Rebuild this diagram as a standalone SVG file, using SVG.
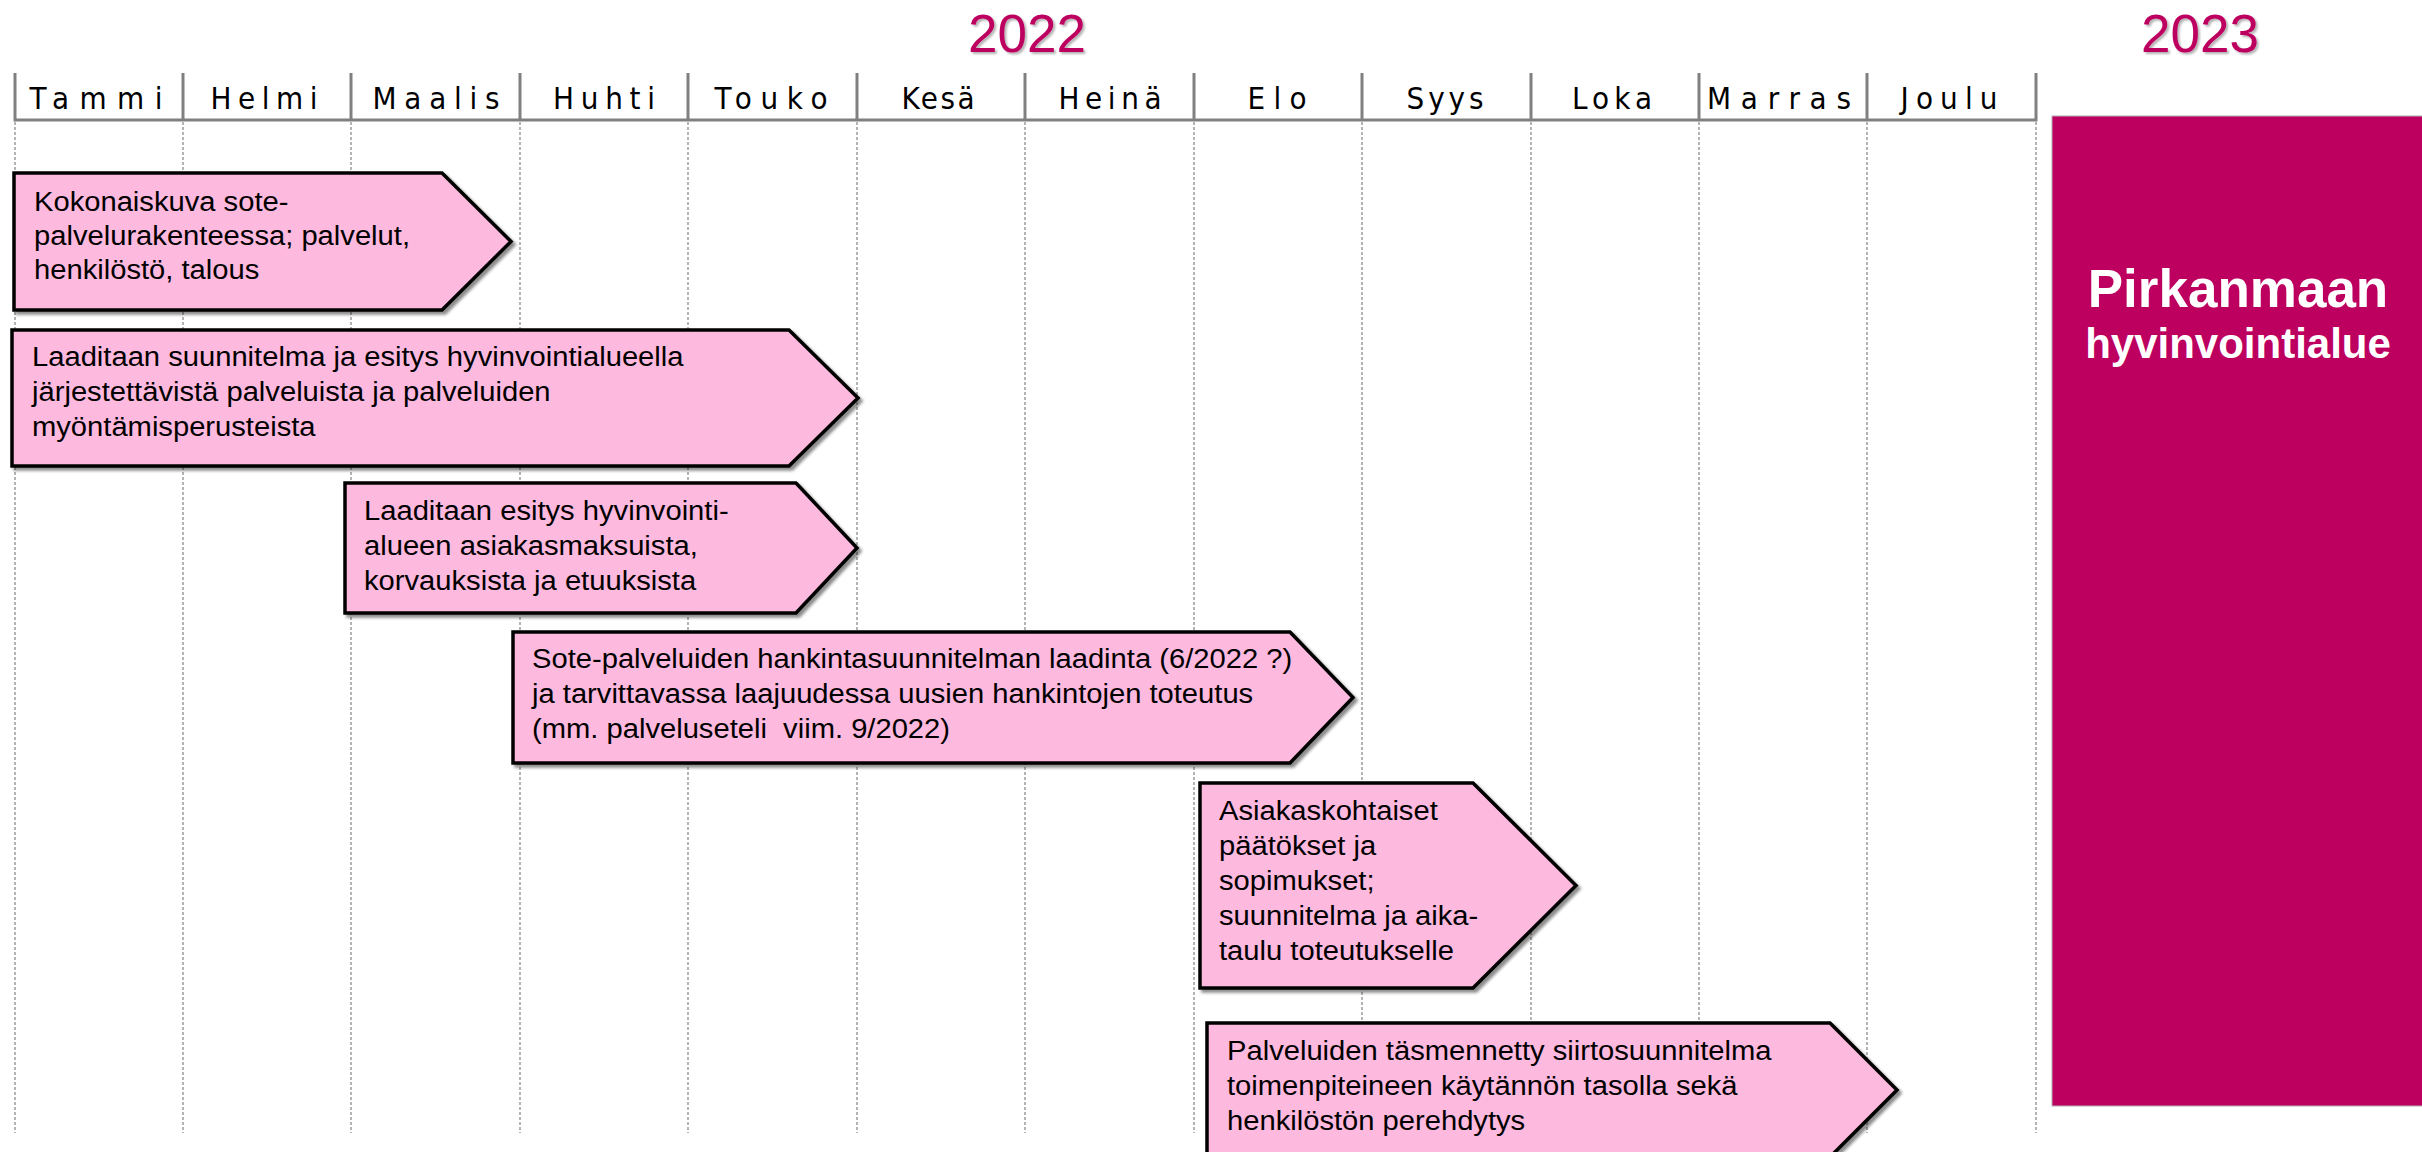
<svg xmlns="http://www.w3.org/2000/svg" width="2422" height="1152" viewBox="0 0 2422 1152">
<defs>
<style>
.yr{font-family:"Liberation Sans",Arial,sans-serif;font-size:53px;fill:#BD0060;text-anchor:middle}
.mo{font-family:"DejaVu Sans Condensed","DejaVu Sans",sans-serif;font-stretch:condensed;font-size:31px;fill:#000;text-anchor:middle}
.tick{stroke:#808080;stroke-width:3;fill:none}
.grid{stroke:#b4b4b4;stroke-width:2;stroke-dasharray:3 2;fill:none}
.box{fill:#FEB9DE;stroke:#000;stroke-width:3.5;stroke-linejoin:miter}
.bt{font-family:"Liberation Sans",Arial,sans-serif;font-size:27px;fill:#000}
.wt{font-family:"Liberation Sans",Arial,sans-serif;font-weight:bold;fill:#fff;text-anchor:middle}
</style>
<filter id="sh" x="-5%" y="-10%" width="115%" height="130%">
<feDropShadow dx="3" dy="3" stdDeviation="1.5" flood-color="#000" flood-opacity="0.45"/>
</filter>
<filter id="tsh" x="-10%" y="-20%" width="130%" height="150%">
<feDropShadow dx="2" dy="2" stdDeviation="1.2" flood-color="#000" flood-opacity="0.3"/>
</filter>
</defs>
<rect width="2422" height="1152" fill="#fff"/>

<g id="years">
<text class="yr" x="1027" y="52" filter="url(#tsh)">2022</text>
<text class="yr" x="2200" y="52" filter="url(#tsh)">2023</text>
</g>

<g id="grid">
<path class="grid" d="M15 122V1133M183 122V1133M351 122V1133M520 122V1133M688 122V1133M857 122V1133M1025 122V1133M1194 122V1133M1362 122V1133M1531 122V1133M1699 122V1133M1867 122V1133M2036 122V1133"/>
</g>

<g id="header">
<path class="tick" d="M15 73V121M183 73V121M351 73V121M520 73V121M688 73V121M857 73V121M1025 73V121M1194 73V121M1362 73V121M1531 73V121M1699 73V121M1867 73V121M2036 73V121M13.5 120H2037.5"/>
<text class="mo" x="96" y="109" textLength="133" lengthAdjust="spacing">Tammi</text>
<text class="mo" x="264" y="109" textLength="107" lengthAdjust="spacing">Helmi</text>
<text class="mo" x="436" y="109" textLength="127" lengthAdjust="spacing">Maalis</text>
<text class="mo" x="604" y="109" textLength="102" lengthAdjust="spacing">Huhti</text>
<text class="mo" x="771" y="109" textLength="113" lengthAdjust="spacing">Touko</text>
<text class="mo" x="938" y="109" textLength="73" lengthAdjust="spacing">Kesä</text>
<text class="mo" x="1110" y="109" textLength="103" lengthAdjust="spacing">Heinä</text>
<text class="mo" x="1277" y="109" textLength="59" lengthAdjust="spacing">Elo</text>
<text class="mo" x="1445" y="109" textLength="77" lengthAdjust="spacing">Syys</text>
<text class="mo" x="1612" y="109" textLength="80" lengthAdjust="spacing">Loka</text>
<text class="mo" x="1779" y="109" textLength="144" lengthAdjust="spacing">Marras</text>
<text class="mo" x="1949" y="109" textLength="97" lengthAdjust="spacing">Joulu</text>
</g>

<g id="region">
<rect x="2052" y="116" width="372" height="990" fill="#BD0060" stroke="#b0b0b0" stroke-width="1"/>
<text class="wt" x="2238" y="307" font-size="53">Pirkanmaan</text>
<text class="wt" x="2238" y="358" font-size="42">hyvinvointialue</text>
</g>

<g id="connectors"></g>

<g id="task1">
<path class="box" filter="url(#sh)" d="M14 173H442L511 241.5L442 310H14Z"/>
<g transform="translate(34,0) scale(1.08,1)">
<text class="bt" x="0" y="211">Kokonaiskuva sote-</text>
<text class="bt" x="0" y="245">palvelurakenteessa; palvelut,</text>
<text class="bt" x="0" y="279">henkilöstö, talous</text>
</g>
</g>

<g id="task2">
<path class="box" filter="url(#sh)" d="M12 330H789L858 398L789 466H12Z"/>
<g transform="translate(32,0) scale(1.08,1)">
<text class="bt" x="0" y="366">Laaditaan suunnitelma ja esitys hyvinvointialueella</text>
<text class="bt" x="0" y="401">järjestettävistä palveluista ja palveluiden</text>
<text class="bt" x="0" y="436">myöntämisperusteista</text>
</g>
</g>

<g id="task3">
<path class="box" filter="url(#sh)" d="M345 483H796L857 548L796 613H345Z"/>
<g transform="translate(364,0) scale(1.08,1)">
<text class="bt" x="0" y="520">Laaditaan esitys hyvinvointi-</text>
<text class="bt" x="0" y="555">alueen asiakasmaksuista,</text>
<text class="bt" x="0" y="590">korvauksista ja etuuksista</text>
</g>
</g>

<g id="task4">
<path class="box" filter="url(#sh)" d="M513 632H1290L1353 697.5L1290 763H513Z"/>
<g transform="translate(532,0) scale(1.08,1)">
<text class="bt" x="0" y="668">Sote-palveluiden hankintasuunnitelman laadinta (6/2022 ?)</text>
<text class="bt" x="0" y="703">ja tarvittavassa laajuudessa uusien hankintojen toteutus</text>
<text class="bt" x="0" y="738">(mm. palveluseteli&#160; viim. 9/2022)</text>
</g>
</g>

<g id="task5">
<path class="box" filter="url(#sh)" d="M1200 783H1473L1576 885.5L1473 988H1200Z"/>
<g transform="translate(1219,0) scale(1.08,1)">
<text class="bt" x="0" y="820">Asiakaskohtaiset</text>
<text class="bt" x="0" y="855">päätökset ja</text>
<text class="bt" x="0" y="890">sopimukset;</text>
<text class="bt" x="0" y="925">suunnitelma ja aika-</text>
<text class="bt" x="0" y="960">taulu toteutukselle</text>
</g>
</g>

<g id="task6">
<path class="box" filter="url(#sh)" d="M1207 1023H1830L1897 1090L1830 1157H1207Z"/>
<g transform="translate(1227,0) scale(1.08,1)">
<text class="bt" x="0" y="1060">Palveluiden täsmennetty siirtosuunnitelma</text>
<text class="bt" x="0" y="1095">toimenpiteineen käytännön tasolla sekä</text>
<text class="bt" x="0" y="1130">henkilöstön perehdytys</text>
</g>
</g>
</svg>
